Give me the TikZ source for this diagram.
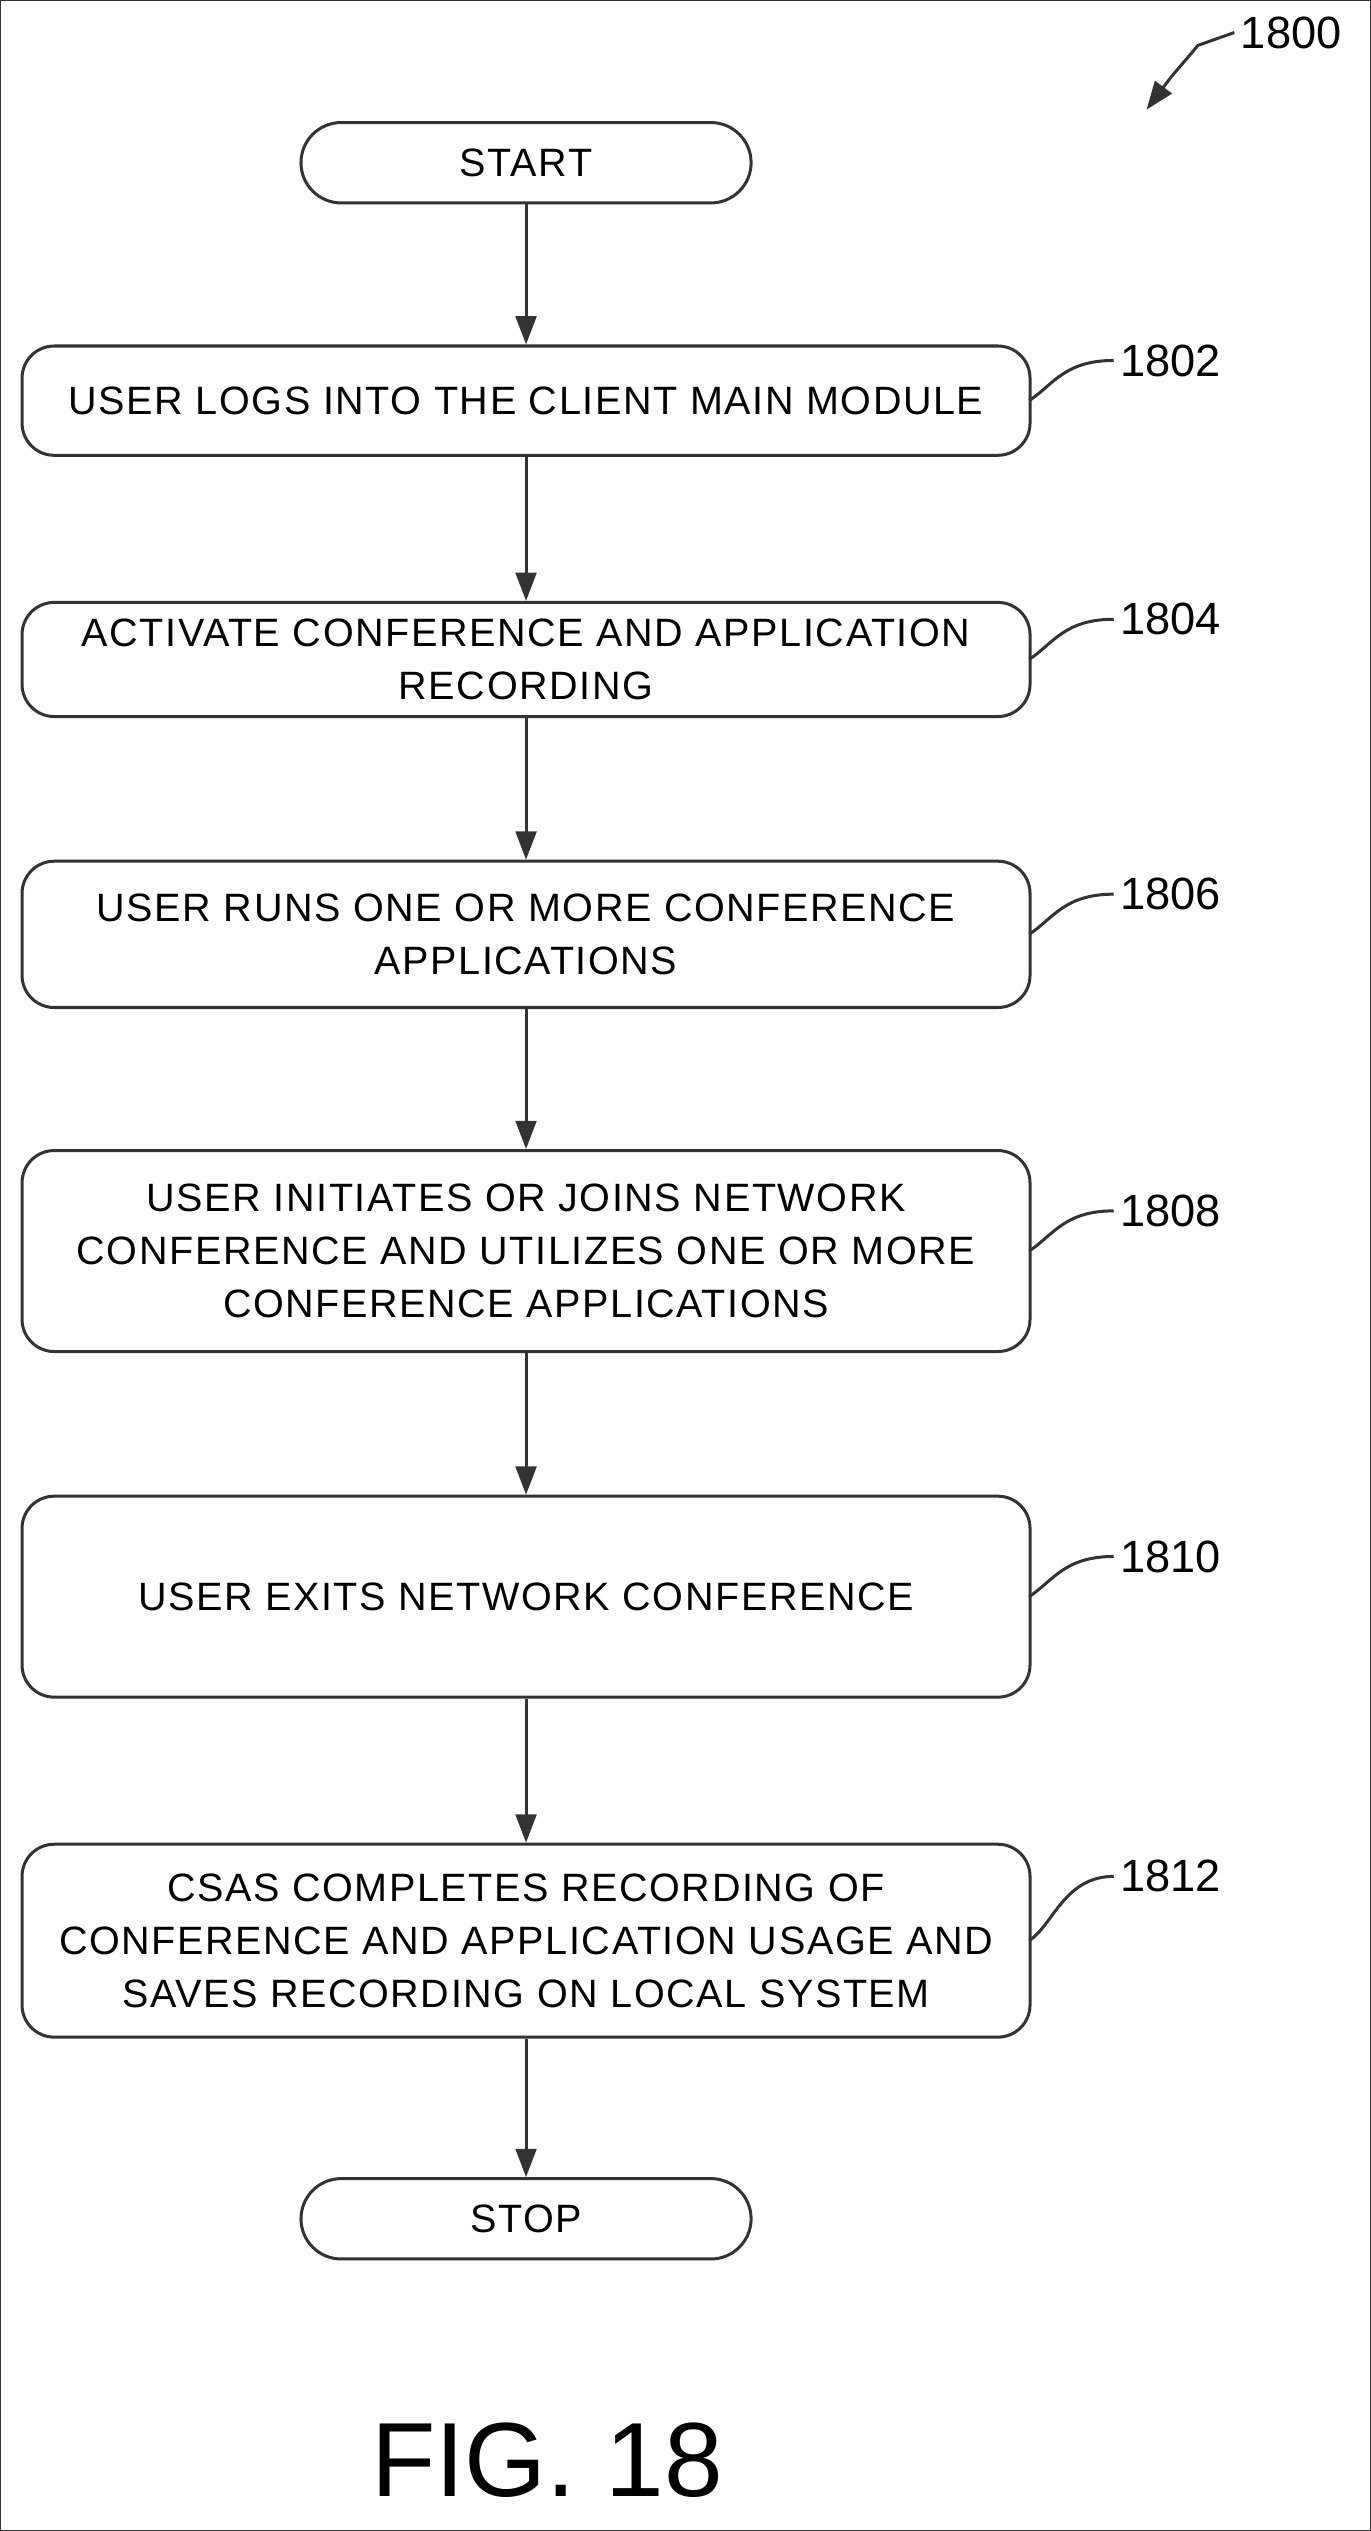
\documentclass[tikz,border=0pt]{standalone}
\usepackage{fontspec}
\setmainfont{Liberation Sans}
\newfontfamily\spaced[LetterSpace=4]{Liberation Sans}
\usetikzlibrary{arrows.meta}
\begin{document}
\begin{tikzpicture}[x=0.03cm,y=-0.03cm,
  every path/.style={draw=black!80},
  box/.style={draw=black!80,line width=1.6pt,rounded corners=0.6cm,align=center,font=\spaced\fontsize{21}{28}\selectfont,inner sep=0pt},
  term/.style={draw=black!80,line width=1.6pt,rounded corners=0.75cm,font=\spaced\fontsize{21}{23}\selectfont,minimum width=8.4cm,minimum height=1.5cm},
  arr/.style={line width=1.6pt,-{Triangle[length=15pt,width=11pt]}},
  lbl/.style={font=\fontsize{24}{26}\selectfont},
  lead/.style={line width=1.6pt}]
\useasboundingbox (0,0) rectangle (852,1574);
\node[term] (start) at (327,101) {START};
\node[box,minimum width=18.81cm,minimum height=2.04cm] (b1802) at (327,249) {USER LOGS INTO THE CLIENT MAIN MODULE};
\node[box,minimum width=18.81cm,minimum height=2.13cm] (b1804) at (327,410) {ACTIVATE CONFERENCE AND APPLICATION\\RECORDING};
\node[box,minimum width=18.81cm,minimum height=2.73cm] (b1806) at (327,581) {USER RUNS ONE OR MORE CONFERENCE\\APPLICATIONS};
\node[box,minimum width=18.81cm,minimum height=3.75cm] (b1808) at (327,778) {USER INITIATES OR JOINS NETWORK\\CONFERENCE AND UTILIZES ONE OR MORE\\CONFERENCE APPLICATIONS};
\node[box,minimum width=18.81cm,minimum height=3.75cm] (b1810) at (327,993) {USER EXITS NETWORK CONFERENCE};
\node[box,minimum width=18.81cm,minimum height=3.6cm] (b1812) at (327,1207) {CSAS COMPLETES RECORDING OF\\CONFERENCE AND APPLICATION USAGE AND\\SAVES RECORDING ON LOCAL SYSTEM};
\node[term] (stop) at (327,1380) {STOP};
\draw[arr] (start) -- (b1802);
\draw[arr] (b1802) -- (b1804);
\draw[arr] (b1804) -- (b1806);
\draw[arr] (b1806) -- (b1808);
\draw[arr] (b1808) -- (b1810);
\draw[arr] (b1810) -- (b1812);
\draw[arr] (b1812) -- (stop);
\foreach \n/\y/\ly in {1802/249/224,1804/410/385,1806/581/556,1808/778/753,1810/993/968,1812/1207/1167}{
  \node[lbl] (l\n) at (728,\ly) {\n};
  \draw[lead] (640,\y) .. controls (655,\y-10) and (662,\ly) .. (l\n.west);
}
\node[lbl] (l1800) at (803,20) {1800};
\coordinate (a1800) at (713,68);
\draw[lead] (l1800.west) -- (745,28) -- (728,48);
\draw[arr] (728,48) -- (a1800);
\node[font=\fontsize{56}{60}\selectfont] (fig) at (340,1530) {FIG. 18};
\end{tikzpicture}
\end{document}
